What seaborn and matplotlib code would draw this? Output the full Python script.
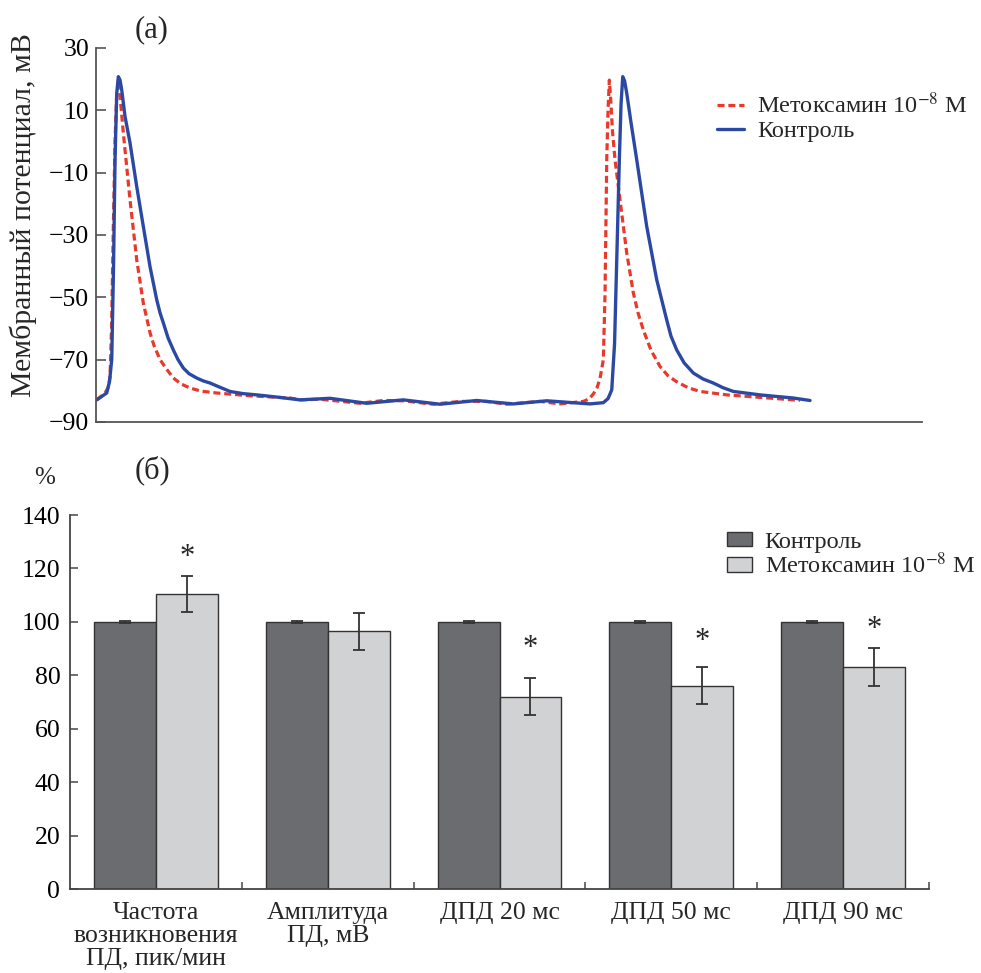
import numpy as np
import pandas as pd
import matplotlib
matplotlib.use("Agg")
import matplotlib.pyplot as plt
from matplotlib.ticker import FixedLocator
import seaborn as sns

# --- panel (a): action potential traces (time in arbitrary units, mV) ---
ctrl_t = [0.7, 10.7, 13.5, 15.7, 17.5, 19, 20.7, 22.3, 24, 25.7, 29, 34, 40.7, 47.3, 54,
          60.7, 64, 67.3, 72, 77.3, 82, 87.3, 93, 100.7, 107, 114, 122, 134, 147, 160.7,
          180.7, 204, 234, 270.7, 307.3, 344, 380.7, 417.3, 450.7, 494, 507.3, 512,
          515.7, 518.5, 520.7, 523.3, 525, 526.7, 528.5, 530.7, 535, 540.7, 550.7,
          560.7, 570.7, 575, 580.7, 588, 597.3, 607, 617.3, 627, 637.3, 664, 697, 714]
ctrl_v = [-82.9, -80.7, -77, -70, -40, -5.9, 15.5, 20.8, 19.7, 16.5, 8, -0.5, -14.5,
          -27.3, -40.2, -50.8, -55, -58.2, -63, -66.9, -70, -72.7, -74.5, -75.9, -76.8,
          -77.5, -78.6, -80.2, -80.9, -81.3, -82.0, -82.9, -82.4, -84.0, -82.9, -84.3,
          -83.1, -84.2, -83.2, -84.2, -83.8, -82.5, -79.7, -65, -38, -5.9, 12, 20.8,
          19.5, 15.5, 6, -5.9, -27.3, -44.4, -57.3, -62.5, -66.9, -71, -74.3, -76.2,
          -77.5, -79, -80.2, -81.3, -82.3, -83.1]

metox_t = [0.7, 9, 12, 14, 15.5, 17.3, 19, 20.7, 22, 23.3, 25, 27.3, 34, 40.7, 47.3, 54,
           58, 64, 70, 77.3, 85, 94, 105, 120.7, 154, 194, 204, 224, 264, 287.3, 307.3,
           337.3, 364, 390.7, 410.7, 444, 464, 487.3, 493, 497.3, 501, 504, 507.3, 509,
           510.7, 512, 513.3, 514.7, 516.5, 519, 524, 530.7, 537.3, 542, 547.3, 555,
           564, 572, 580.7, 592, 604, 630.7, 664, 697, 704]
metox_v = [-82.9, -80.7, -79, -75.5, -60, -27.3, 0, 15.5, 17.5, 17.6, 11, 2.7, -18.8,
           -38, -51.9, -61.4, -65.5, -70, -72.8, -75.9, -77.8, -79.1, -80.1, -80.7,
           -81.6, -82.3, -82.9, -82.7, -84.0, -83.1, -83.2, -84.3, -83.4, -83.4, -84.3,
           -83.4, -84.2, -83.4, -82.6, -81.0, -79, -76.0, -70.0, -48.6, -5.9, 10, 19.7,
           13.3, 3, -5.9, -18.8, -35.8, -48.6, -55, -60.5, -67, -72.2, -75.2, -77.1,
           -79, -80.2, -81.3, -82.1, -82.9, -83.0]

# --- panel (b): bar chart, % of control ---
categories = ["Частота\nвозникновения\nПД, пик/мин", "Амплитуда\nПД, мВ",
              "ДПД 20 мс", "ДПД 50 мс", "ДПД 90 мс"]
ctrl_mean = [100, 100, 100, 100, 100]
ctrl_err = [0.3, 0.3, 0.3, 0.3, 0.3]
metox_mean = [110.5, 96.5, 72.0, 76.1, 83.1]
metox_err = [6.8, 7.0, 7.0, 7.0, 7.0]
star_y = [124, None, 90, 92.6, 97]

ctrl_name = "Контроль"
metox_name = "Метоксамин 10$^{-8}$ М"

sns.set_style("ticks")
plt.rcParams["font.family"] = ["Liberation Serif", "DejaVu Serif"]
plt.rcParams["mathtext.fontset"] = "stix"

fig = plt.figure(figsize=(9.81, 9.73), dpi=100)

# ---------- top panel ----------
ax1 = fig.add_axes([0.0979, 0.5663, 0.8420, 0.3844])
sns.lineplot(x=metox_t, y=metox_v, ax=ax1, color="#e8392b", lw=2.3,
             linestyle=(0, (2.2, 1.2)), label=metox_name, sort=False)
sns.lineplot(x=ctrl_t, y=ctrl_v, ax=ax1, color="#2b49a3", lw=2.4, label=ctrl_name,
             sort=False)
ax1.set_xlim(0, 826)
ax1.set_ylim(-90, 30)
ax1.set_yticks([30, 10, -10, -30, -50, -70, -90])
ax1.set_yticklabels(["30", "10", "\u221210", "\u221230", "\u221250", "\u221270", "\u221290"])
ax1.set_xticks([])
ax1.tick_params(axis="y", direction="in", length=7, width=1.2, colors="#555555",
                labelcolor="black", labelsize=18.5, pad=5)
for s in ["top", "right"]:
    ax1.spines[s].set_visible(False)
for s in ["left", "bottom"]:
    ax1.spines[s].set_color("#555555")
    ax1.spines[s].set_linewidth(1.3)
ax1.set_ylabel("Мембранный потенциал, мВ", fontsize=21.5)
ax1.yaxis.set_label_coords(-0.072, 0.553)
ax1.legend(loc="upper left", bbox_to_anchor=(0.731, 0.905), bbox_transform=fig.transFigure,
           frameon=False, fontsize=17.5, handlelength=1.1, handletextpad=0.55,
           labelspacing=0.1, borderpad=0, borderaxespad=0)
fig.text(152 / 981, 1 - 30 / 973, "(а)", fontsize=22, ha="center", va="center")

# ---------- bottom panel ----------
ax2 = fig.add_axes([0.0714, 0.0863, 0.8756, 0.3844])
df = pd.DataFrame({
    "cat": categories * 2,
    "group": [ctrl_name] * 5 + [metox_name] * 5,
    "val": ctrl_mean + metox_mean,
})
sns.barplot(data=df, x="cat", y="val", hue="group", ax=ax2, width=0.72,
            palette=["#6b6c70", "#d1d2d4"], edgecolor="#333333", linewidth=1.0,
            errorbar=None, saturation=1)
for cont, errs in zip(ax2.containers, [ctrl_err, metox_err]):
    xs = [b.get_x() + b.get_width() / 2 for b in cont]
    ys = [b.get_height() for b in cont]
    ax2.errorbar(xs, ys, yerr=errs, fmt="none", ecolor="#333333", elinewidth=1.3,
                 capsize=4, capthick=1.3)
for b, sy in zip(ax2.containers[1], star_y):
    if sy is not None:
        ax2.text(b.get_x() + b.get_width() / 2, sy, "*", ha="center", va="center",
                 fontsize=22)
ax2.set_xlim(-0.5, 4.5)
ax2.set_ylim(0, 140)
ax2.set_yticks(range(0, 141, 20))
ax2.set_xticks(range(len(categories)))
ax2.set_xticklabels(categories, linespacing=1.08)
ax2.xaxis.set_minor_locator(FixedLocator([0.5, 1.5, 2.5, 3.5, 4.5]))
ax2.tick_params(axis="x", which="major", length=0, labelsize=18.5, pad=9)
ax2.tick_params(axis="x", which="minor", direction="in", length=5, width=1.2,
                colors="#555555")
ax2.tick_params(axis="y", direction="in", length=6, width=1.2, colors="#555555",
                labelcolor="black", labelsize=18.5, pad=7)
for s in ["top", "right"]:
    ax2.spines[s].set_visible(False)
for s in ["left", "bottom"]:
    ax2.spines[s].set_color("#444444")
    ax2.spines[s].set_linewidth(1.3)
ax2.set_xlabel("")
ax2.set_ylabel("")
ax2.legend(loc="upper left", bbox_to_anchor=(0.741, 0.4535), bbox_transform=fig.transFigure,
           frameon=False, fontsize=17.5, handlelength=1.05, handleheight=0.55,
           handletextpad=0.5, labelspacing=0.0, borderpad=0, borderaxespad=0)
fig.text(152 / 981, 1 - 470 / 973, "(б)", fontsize=22, ha="center", va="center")
fig.text(45 / 981, 1 - 478 / 973, "%", fontsize=18, ha="center", va="center")

fig.savefig("out.png", dpi=100)
